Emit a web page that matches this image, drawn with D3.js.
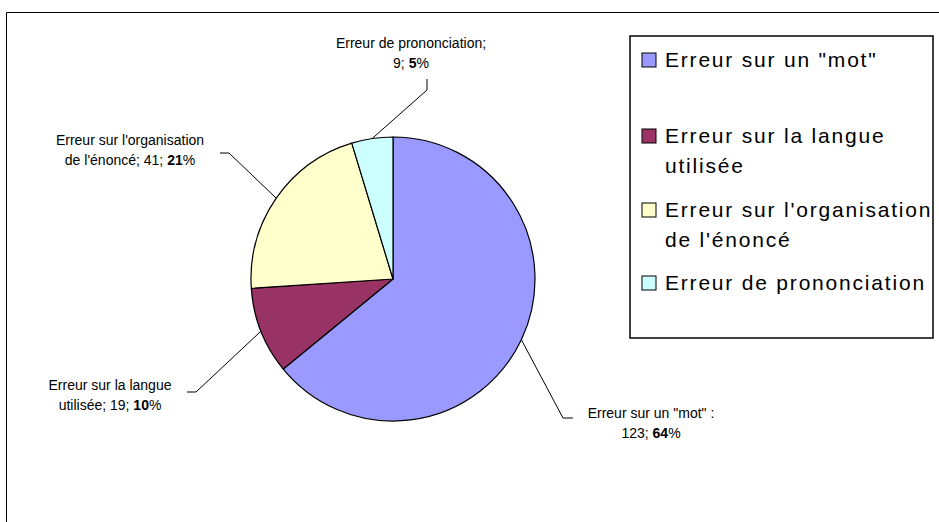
<!DOCTYPE html>
<html>
<head>
<meta charset="utf-8">
<script src="https://cdn.jsdelivr.net/npm/d3@7"></script>
<style>
  body { margin: 0; background: #fff; }
  text { font-family: Arial, "Liberation Sans", sans-serif; fill: #000; }
</style>
</head>
<body>
<div id="chart"></div>
<script>
// chart data
var categories = ['Erreur sur un "mot"', 'Erreur sur la langue utilisée', "Erreur sur l'organisation de l'énoncé", 'Erreur de prononciation'];
var counts = [123, 19, 41, 9];
var percents = [64, 10, 21, 5];
var colors = ["#9999FF", "#993366", "#FFFFCC", "#CCFFFF"];

// legend text split in lines
var legendLines = [['Erreur sur un "mot"'], ['Erreur sur la langue', 'utilisée'], ["Erreur sur l'organisation", "de l'énoncé"], ['Erreur de prononciation']];
// data label text: first line and start of second line
var labelHeads = ['Erreur sur un "mot" :', 'Erreur sur la langue', "Erreur sur l'organisation", 'Erreur de prononciation;'];
var labelTails = ['', 'utilisée; ', "de l'énoncé; ", ''];

var svgWidth = 939;
var svgHeight = 522;

var svg = d3.select("#chart")
            .append("svg")
            .attr("width", svgWidth)
            .attr("height", svgHeight);

// outer frame (top and left edges only visible)
svg.append("path")
    .attr("d", "M6.5," + svgHeight + "V12.5H" + svgWidth)
    .attr("fill", "none")
    .attr("stroke", "#000")
    .attr("stroke-width", 1);

var cx = 393, cy = 279, radius = 142;

var pieGroup = svg.append("g")
    .attr("transform", `translate(${cx}, ${cy})`);

var pie = d3.pie().sort(null).value(d => d);
var arcs = pie(counts);

var arc = d3.arc().innerRadius(0).outerRadius(radius);
var edgeArc = d3.arc().innerRadius(radius).outerRadius(radius);

pieGroup.selectAll("path.slice")
    .data(arcs)
    .enter()
    .append("path")
    .attr("class", "slice")
    .attr("d", arc)
    .attr("fill", (d, i) => colors[i])
    .attr("stroke", "#000")
    .attr("stroke-width", 1.2)
    .attr("stroke-linejoin", "round");

// label layout: text anchor point, elbow and end of leader line
var labelPos = [[651, 418], [110, 390], [130, 145], [411, 48]];
var elbows = [[563, 418], [196, 392], [229, 153], [427, 90]];
var ends = [[573, 418], [187, 392], [220, 153], [427, 79]];

// leader lines
svg.selectAll("path.leader")
    .data(arcs)
    .enter()
    .append("path")
    .attr("class", "leader")
    .attr("d", function(d, i) {
        var c = edgeArc.centroid(d);
        return "M" + (cx + c[0]) + "," + (cy + c[1]) +
               "L" + elbows[i][0] + "," + elbows[i][1] +
               "L" + ends[i][0] + "," + ends[i][1];
    })
    .attr("fill", "none")
    .attr("stroke", "#000")
    .attr("stroke-width", 1);

// data labels
var labels = svg.selectAll("text.dlabel")
    .data(arcs)
    .enter()
    .append("text")
    .attr("class", "dlabel")
    .attr("text-anchor", "middle")
    .attr("font-size", "14px");

labels.append("tspan")
    .attr("x", (d, i) => labelPos[i][0])
    .attr("y", (d, i) => labelPos[i][1])
    .text((d, i) => labelHeads[i]);

var second = labels.append("tspan")
    .attr("x", (d, i) => labelPos[i][0])
    .attr("y", (d, i) => labelPos[i][1] + 20)
    .text((d, i) => labelTails[i] + counts[i] + "; ");

second.append("tspan")
    .attr("font-weight", "bold")
    .text((d, i) => percents[i]);
second.append("tspan")
    .text("%");

// legend
svg.append("rect")
    .attr("x", 630)
    .attr("y", 36)
    .attr("width", 303)
    .attr("height", 302)
    .attr("fill", "#fff")
    .attr("stroke", "#000")
    .attr("stroke-width", 1.5);

var legendY = [67, 143, 217, 290];

var legendItems = svg.selectAll("g.legend")
    .data(categories)
    .enter()
    .append("g")
    .attr("class", "legend")
    .attr("transform", (d, i) => `translate(642, ${legendY[i]})`);

legendItems.append("rect")
    .attr("x", 0)
    .attr("y", -14)
    .attr("width", 14)
    .attr("height", 14)
    .attr("fill", (d, i) => colors[i])
    .attr("stroke", "#000")
    .attr("stroke-width", 1);

legendItems.each(function(d, i) {
    var t = d3.select(this).append("text")
        .attr("font-size", "21px")
        .attr("letter-spacing", "1.8px");
    legendLines[i].forEach(function(line, j) {
        t.append("tspan")
            .attr("x", 23)
            .attr("y", j * 30)
            .text(line);
    });
});
</script>
</body>
</html>
